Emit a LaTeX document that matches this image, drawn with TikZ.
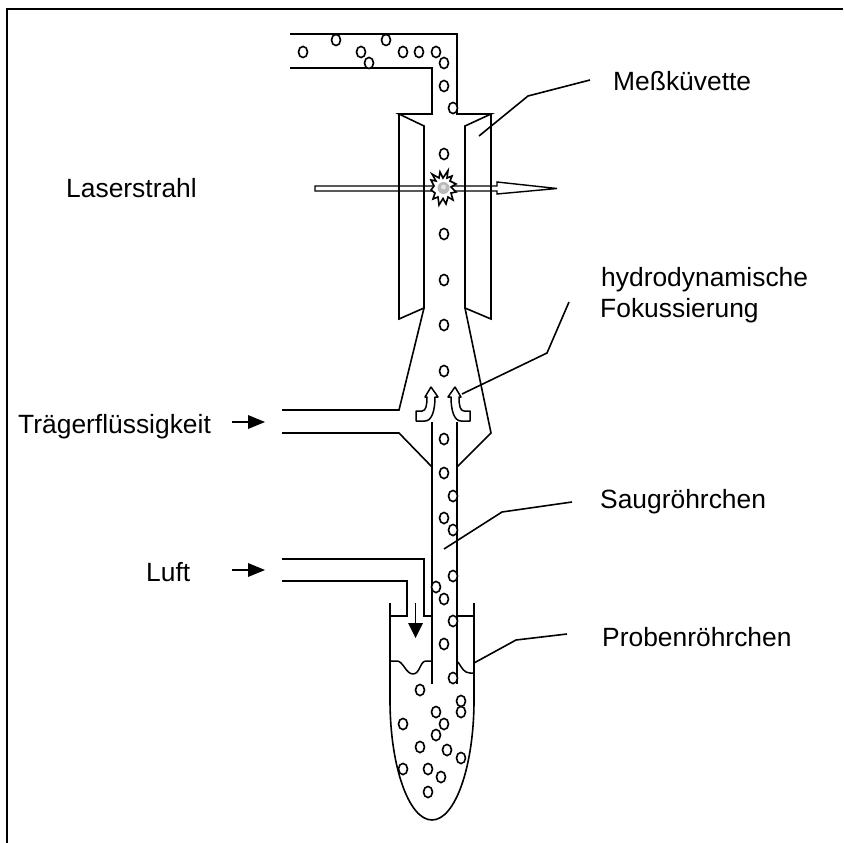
\documentclass[tikz,border=0pt]{standalone}
\usepackage{fontspec}
\setmainfont{Liberation Sans}
\tikzset{
  wall/.style={draw=black,line width=1.6pt,line join=miter},
  thin wall/.style={draw=black,line width=1.5pt,line join=round},
  lab/.style={anchor=base west,inner sep=0pt,font=\fontsize{26.4}{31}\selectfont,text=black},
  bubble/.style={draw=black,line width=1.6pt,fill=white},
  tip/.style={fill=black,draw=none}
}
\begin{document}
\begin{tikzpicture}[x=1pt,y=-1pt]
\useasboundingbox (0,0) rectangle (843,843);
\fill[white] (0,0) rectangle (843,843);
% frame
\draw[line width=1.8pt] (843,9) -- (7,9) -- (7,843);
% feed tube
\draw[wall] (290,34) -- (457,34) -- (457,114) -- (491,114) -- (465,126) -- (465,308) -- (491,319) -- (491,114);
\draw[wall] (290,68) -- (432,68) -- (432,114) -- (399,114) -- (424,126) -- (424,308) -- (399,319) -- (399,114);
% funnel
\draw[wall] (424,308) -- (399,410) -- (282,410);
\draw[wall] (282,433) -- (399,433) -- (432,467);
\draw[wall] (465,308) -- (491,433) -- (457,467);
% suction tube
\draw[wall] (432,422) -- (432,684);
\draw[wall] (457,422) -- (457,684);
% air inlet
\draw[wall] (282,559) -- (424,559) -- (424,616) -- (432,616);
\draw[wall] (282,581) -- (407,581) -- (407,616) -- (390,616);
\draw[wall] (457,616) -- (474,616);
% sample tube
\draw[wall] (390,603) -- (390,700) .. controls (390,766.3) and (408.8,820) .. (432,820) .. controls (455.2,820) and (474,766.3) .. (474,700) -- (474,603);
% liquid level
\draw[thin wall] (390,661) -- (397,661) .. controls (403,661) and (406,674) .. (413,674) .. controls (420,674) and (420,661) .. (426,661) -- (432,661);
\draw[thin wall] (458,662) .. controls (462,668) and (464,673) .. (470,673) -- (474,673);
% down arrow
\coordinate (dnA) at (415.5,603);
\coordinate (dnB) at (415.5,625);
\draw[wall] (dnA) -- (dnB);
\fill[tip] (408,623) -- (423,623) -- (415.5,638) -- cycle;
% inlet arrows
\coordinate (trA) at (232,422);
\coordinate (trB) at (250,422);
\draw[wall] (trA) -- (trB);
\fill[tip] (248,415) -- (265,422) -- (248,429) -- cycle;
\coordinate (luA) at (232,570);
\coordinate (luB) at (250,570);
\draw[wall] (luA) -- (luB);
\fill[tip] (248,563) -- (265,570) -- (248,577) -- cycle;
% curved arrows
\draw[thin wall] (431,387) -- (438,397) -- (435,397) .. controls (435,410) and (432,421) .. (425,421) -- (416,421) -- (416,411) -- (422,411) .. controls (426,411) and (427,405) .. (427,397) -- (425,397) -- cycle;
\draw[thin wall] (455,387) -- (448,397) -- (451,397) .. controls (451,410) and (454,421) .. (461,421) -- (470,421) -- (470,411) -- (464,411) .. controls (460,411) and (459,405) .. (459,397) -- (461,397) -- cycle;
% bubbles
\foreach \x/\y in {303/52,336/40,361/52,369/63,386/40,403/52,419/52,436/52,444/63,444/86,453/108,
  444/154,444/234,444/280,444/325,444/371,444/439,444/473,453/496,444/518,453/530,
  453/576,436/587,444/599,453/621,444/644,453/678,420/690,461/701,461/712,436/712,
  444/724,403/724,436/735,420/747,447/750,461/758,403/769,428/769,441/777,428/792}
  \draw[bubble] (\x,\y) ellipse[x radius=4.5,y radius=5.6];
% laser beam
\draw[line width=1.4pt,line join=miter] (497,186) -- (315,186) -- (315,191) -- (497,191) -- (497,194) -- (557,188.5) -- (497,182) -- cycle;
% flash
\draw[line width=1.6pt,fill=white,line join=miter]
  (443,178) -- (448,170.5) -- (447,178) -- (452,176) -- (450,181) -- (456,184) -- (451,187) -- (456,192) -- (451,193) -- (453,200) -- (448,197) -- (446,204) -- (443,198.5) -- (439,205) -- (438,197) -- (433,199) -- (435,193) -- (431,190) -- (434,186) -- (431,180) -- (436,181) -- (432,174) -- (439,178) -- (440,172) -- cycle;
\fill[gray!55] (443.5,188) circle[radius=6];
\fill[white!80!gray] (443.5,187) circle[radius=2.5];
% leaders
\coordinate (mkA) at (479,136); \coordinate (mkB) at (528,96); \coordinate (mkC) at (590,80);
\draw[wall] (mkA) -- (mkB) -- (mkC);
\coordinate (hyA) at (462,394); \coordinate (hyB) at (547,353); \coordinate (hyC) at (569,302);
\draw[wall] (hyA) -- (hyB) -- (hyC);
\coordinate (saA) at (444,549); \coordinate (saB) at (502,512); \coordinate (saC) at (572,502);
\draw[wall] (saA) -- (saB) -- (saC);
\coordinate (prA) at (474,663); \coordinate (prB) at (516,640); \coordinate (prC) at (567,634);
\draw[wall] (prA) -- (prB) -- (prC);
% labels
\node[lab] (mess) at (613,90) {Meßküvette};
\node[lab] (laser) at (66,197) {Laserstrahl};
\node[lab] (hydro) at (601,286) {hydrodynamische};
\node[lab] (foku) at (600,317) {Fokussierung};
\node[lab] (traeger) at (18,433) {Trägerflüssigkeit};
\node[lab] (saug) at (600,508) {Saugröhrchen};
\node[lab] (luft) at (146,581) {Luft};
\node[lab] (probe) at (602,646) {Probenröhrchen};
\end{tikzpicture}
\end{document}
